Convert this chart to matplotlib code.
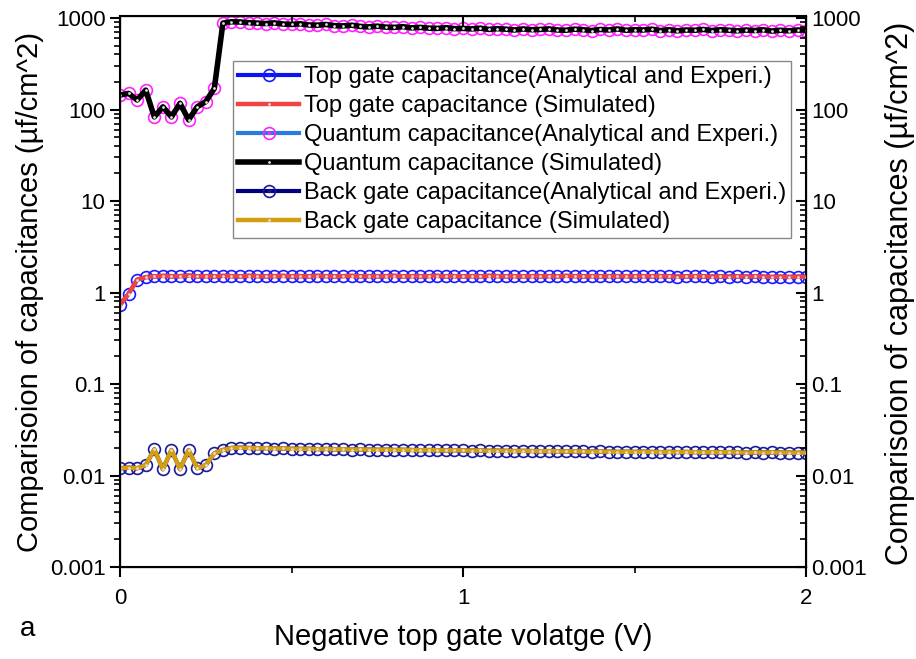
import numpy as np
import matplotlib
matplotlib.use("Agg")
import matplotlib.pyplot as plt
from matplotlib.lines import Line2D
from matplotlib.ticker import FixedLocator, LogLocator, NullFormatter

plt.rcParams['font.family'] = ['Liberation Sans', 'DejaVu Sans']

# gate voltage, 0 to 2 V in 0.025 V steps
voltage = np.linspace(0, 2, 81)

# top gate capacitance (uF/cm^2)
top_gate = [0.73, 0.97, 1.38, 1.47, 1.50, 1.52, 1.50, 1.51, 1.53, 1.50,
            1.51, 1.50, 1.52, 1.51, 1.50, 1.52, 1.51, 1.50, 1.51, 1.52,
            1.50, 1.51, 1.50, 1.52, 1.51, 1.50, 1.51, 1.52, 1.50, 1.51,
            1.50, 1.51, 1.52, 1.50, 1.51, 1.50, 1.51, 1.52, 1.50, 1.51,
            1.50, 1.51, 1.50, 1.52, 1.51, 1.50, 1.51, 1.50, 1.51, 1.50,
            1.51, 1.50, 1.52, 1.51, 1.50, 1.51, 1.50, 1.51, 1.50, 1.51,
            1.50, 1.51, 1.50, 1.51, 1.50, 1.49, 1.50, 1.51, 1.50, 1.49,
            1.50, 1.49, 1.50, 1.49, 1.50, 1.49, 1.48, 1.49, 1.48, 1.49, 1.48]

# quantum capacitance (uF/cm^2)
quantum = [144, 150, 127, 163, 83, 107, 83, 117, 77, 107, 122, 170,
           880, 910, 905, 890, 880, 870, 885, 860,
           850, 865, 840, 835, 850, 825, 820, 835, 810, 800,
           815, 795, 790, 805, 780, 790, 775, 770, 785, 765,
           770, 760, 775, 750, 765, 755, 740, 760, 745, 750,
           760, 740, 735, 755, 745, 730, 750, 740, 760, 735,
           745, 740, 755, 730, 745, 725, 740, 735, 750, 730,
           745, 735, 725, 740, 730, 745, 720, 735, 725, 740, 730]

# back gate capacitance (uF/cm^2)
back_gate = [0.0120, 0.0122, 0.0120, 0.0130, 0.0193, 0.0117, 0.0190, 0.0117, 0.0190, 0.0120,
             0.0130, 0.0175, 0.0190, 0.0200, 0.0202, 0.0200, 0.0198, 0.0199, 0.0197, 0.0198,
             0.0196, 0.0195, 0.0196, 0.0194, 0.0195, 0.0193, 0.0194, 0.0192, 0.0193, 0.0192,
             0.0191, 0.0192, 0.0190, 0.0191, 0.0190, 0.0189, 0.0190, 0.0189, 0.0188, 0.0189,
             0.0188, 0.0187, 0.0188, 0.0186, 0.0187, 0.0186, 0.0185, 0.0186, 0.0185, 0.0184,
             0.0185, 0.0184, 0.0183, 0.0184, 0.0183, 0.0182, 0.0183, 0.0182, 0.0181, 0.0182,
             0.0181, 0.0182, 0.0181, 0.0180, 0.0181, 0.0180, 0.0181, 0.0180, 0.0179, 0.0180,
             0.0179, 0.0180, 0.0179, 0.0178, 0.0179, 0.0178, 0.0179, 0.0178, 0.0178, 0.0177, 0.0178]

ytick_vals = [0.001, 0.01, 0.1, 1, 10, 100, 1000]
ytick_labels = ['0.001', '0.01', '0.1', '1', '10', '100', '1000']

fig = plt.figure(figsize=(9.16, 6.59), dpi=100)
ax = fig.add_axes([0.131, 0.1396, 0.749, 0.836])

handles = []

def exp_line(y, lc, mc, label):
    ln, = ax.plot(voltage, y, color=lc, lw=3, marker='o', ms=8.5, mfc='none',
                  mec=mc, mew=1.2, zorder=2)
    dot = Line2D([], [], ls='none', marker='.', ms=3, color=mc)
    handles.append(((ln, dot), label))

def sim_line(y, c, label, lw=3.2):
    ln, = ax.plot(voltage, y, color=c, lw=lw, marker='.', ms=2, mfc='#dddddd',
                  mec='#dddddd', zorder=3)
    handles.append((ln, label))

exp_line(top_gate, '#0a14f0', '#1a1aff', 'Top gate capacitance(Analytical and Experi.)')
sim_line(top_gate, '#ee4444', 'Top gate capacitance (Simulated)')
exp_line(quantum, '#2a7be0', '#ff22ff', 'Quantum capacitance(Analytical and Experi.)')
sim_line(quantum, 'black', 'Quantum capacitance (Simulated)', lw=4)
exp_line(back_gate, '#000080', '#1a1a9a', 'Back gate capacitance(Analytical and Experi.)')
sim_line(back_gate, '#d39e12', 'Back gate capacitance (Simulated)')

ax.set_yscale('log')
ax.set_ylim(0.001, 1050)
ax.set_xlim(0, 2)
ax.set_xticks([0, 1, 2])
ax.set_xticks([0.5, 1.5], minor=True)
ax.set_xticklabels(['0', '1', '2'])
ax.yaxis.set_major_locator(FixedLocator(ytick_vals))
ax.set_yticklabels(ytick_labels)
ax.yaxis.set_minor_locator(LogLocator(base=10, subs=np.arange(2, 10), numticks=20))
ax.yaxis.set_minor_formatter(NullFormatter())

ax.tick_params(axis='both', which='major', labelsize=16, length=7, width=1.5, direction='out')
ax.tick_params(axis='both', which='minor', length=4, width=1.2, direction='out')
ax.tick_params(axis='x', pad=8)
for s in ax.spines.values():
    s.set_linewidth(1.5)

# right axis mirror
ax2 = ax.twinx()
ax2.set_yscale('log')
ax2.set_ylim(ax.get_ylim())
ax2.yaxis.set_major_locator(FixedLocator(ytick_vals))
ax2.set_yticklabels(ytick_labels)
ax2.yaxis.set_minor_locator(LogLocator(base=10, subs=np.arange(2, 10), numticks=20))
ax2.yaxis.set_minor_formatter(NullFormatter())
ax2.tick_params(axis='y', which='major', labelsize=16, length=7, width=1.5, direction='in')
ax2.tick_params(axis='y', which='minor', length=4, width=1.2, direction='in')

# top axis ticks
ax3 = ax.twiny()
ax3.set_xlim(ax.get_xlim())
ax3.set_xticks([0, 1, 2])
ax3.set_xticks([0.5, 1.5], minor=True)
ax3.tick_params(axis='x', which='major', length=7, width=1.5, direction='in', labeltop=False)
ax3.tick_params(axis='x', which='minor', length=4, width=1.2, direction='in')

ax.set_xlabel('Negative top gate volatge (V)', fontsize=21, labelpad=10)
ax.set_ylabel('Comparisoion of capacitances (\u00b5f/cm^2)', fontsize=21, labelpad=4)
fig.text(0.983, 0.555, 'Comparisoion of capacitances (\u00b5f/cm^2)', fontsize=22,
         rotation=90, ha='center', va='center')
fig.text(0.022, 0.035, 'a', fontsize=20)

leg = ax3.legend([h for h, _ in handles], [l for _, l in handles],
                 loc='upper left', bbox_to_anchor=(0.165, 0.918), fontsize=17,
                 frameon=True, fancybox=False, edgecolor='#888888', framealpha=1,
                 handlelength=2.6, handletextpad=0.2, labelspacing=0.3,
                 borderpad=0.2, borderaxespad=0)
leg.get_frame().set_linewidth(1.0)

fig.savefig('out.png', dpi=100)
